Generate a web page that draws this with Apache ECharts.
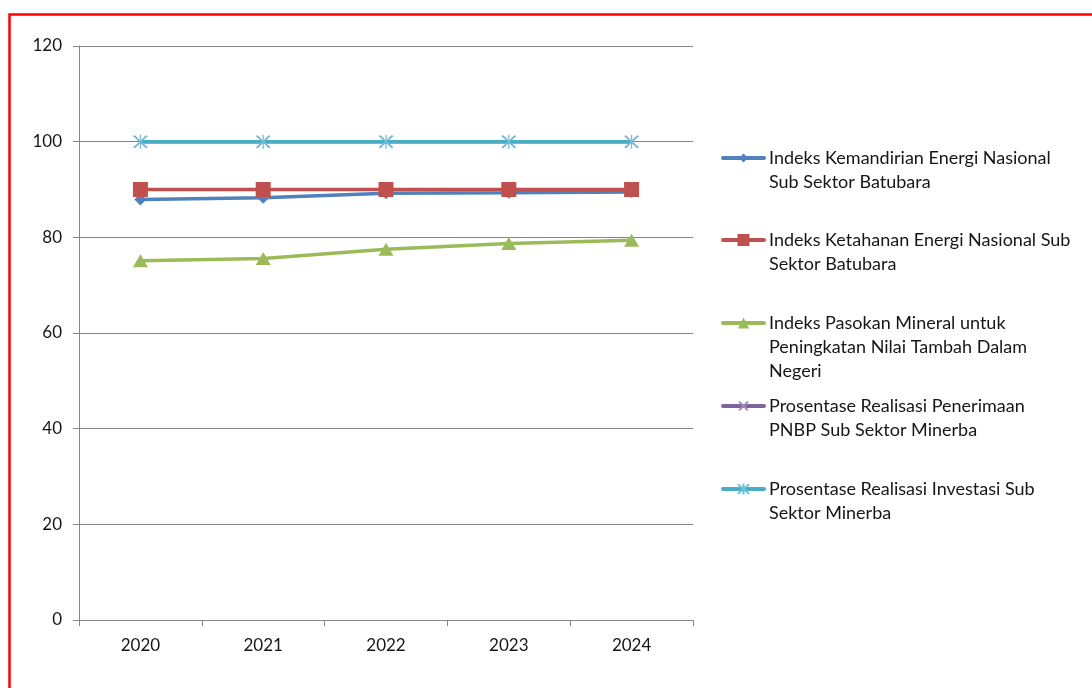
<!DOCTYPE html>
<html>
<head>
<meta charset="utf-8">
<script src="https://cdn.jsdelivr.net/npm/echarts@6/dist/echarts.min.js"></script>
<style>
html,body{margin:0;padding:0;background:#fff;}
#chart{width:1092px;height:688px;}
</style>
</head>
<body>
<div id="chart"></div>
<script>
// ---- data ----
var years = ['2020', '2021', '2022', '2023', '2024'];
var seriesNames = [
  'Indeks Kemandirian Energi Nasional Sub Sektor Batubara',
  'Indeks Ketahanan Energi Nasional Sub Sektor Batubara',
  'Indeks Pasokan Mineral untuk Peningkatan Nilai Tambah Dalam Negeri',
  'Prosentase Realisasi Penerimaan PNBP Sub Sektor Minerba',
  'Prosentase Realisasi Investasi Sub Sektor Minerba'
];
var legendLines = [
  ['Indeks Kemandirian Energi Nasional', 'Sub Sektor Batubara'],
  ['Indeks Ketahanan Energi Nasional Sub', 'Sektor Batubara'],
  ['Indeks Pasokan Mineral untuk', 'Peningkatan Nilai Tambah Dalam', 'Negeri'],
  ['Prosentase Realisasi Penerimaan', 'PNBP Sub Sektor Minerba'],
  ['Prosentase Realisasi Investasi Sub', 'Sektor Minerba']
];
var kemandirian = [87.9, 88.3, 89.2, 89.3, 89.5];
var ketahanan = [90, 90, 90, 90, 90];
var pasokanMineral = [75.1, 75.6, 77.5, 78.7, 79.4];
var realisasiPNBP = [100, 100, 100, 100, 100];
var realisasiInvestasi = [100, 100, 100, 100, 100];
var yTicks = [0, 20, 40, 60, 80, 100, 120];

// ---- style ----
var FONT = 'Lato';
var FS_AXIS = 17;
var FS_LEG = 18;
var LH = 24;
var colors = ['#4F81BD', '#C0504D', '#9BBB59', '#8064A2', '#4BACC6'];
var values = [kemandirian, ketahanan, pasokanMineral, realisasiPNBP, realisasiInvestasi];
var symbols = [
  'diamond',
  'rect',
  'triangle',
  'path://M0 0L10 10M10 0L0 10',
  'path://M0 0L12 12M12 0L0 12M6 -1L6 13'
];
var symbolSizes = [[12, 12], [15, 15], [15, 13], [12, 12], [14, 14]];
var legendIconHeights = [11, 15, 14, 11, 14];
var legendFirstLineY = [158, 240, 323, 406, 489];

var series = seriesNames.map(function (name, i) {
  var isStroke = i >= 3;
  return {
    name: name,
    type: 'line',
    data: values[i],
    symbol: symbols[i],
    symbolSize: symbolSizes[i],
    showAllSymbol: true,
    lineStyle: { color: colors[i], width: 3.5 },
    itemStyle: isStroke
      ? { color: colors[i], borderColor: i === 4 ? '#6EC2D8' : '#A08CC0', borderWidth: 1.3 }
      : { color: colors[i], borderWidth: 0 },
    emphasis: { disabled: true },
    animation: false,
    z: 2 + i
  };
});

// Each legend entry: the icon sits on the first text line (blank lines
// above the text keep the first line on the icon's centre).
var legends = seriesNames.map(function (name, i) {
  var n = legendLines[i].length;
  var lead = new Array(n).join('\n');
  return {
    orient: 'vertical',
    left: 721,
    top: legendFirstLineY[i] - (n - 1) * LH - LH / 2,
    padding: 0,
    itemWidth: 41,
    itemHeight: legendIconHeights[i],
    data: [name],
    formatter: function () { return lead + legendLines[i].join('\n'); },
    textStyle: { fontFamily: FONT, fontSize: FS_LEG, lineHeight: LH, color: '#161616' },
    lineStyle: { width: 4, cap: 'round' },
    selectedMode: false
  };
});

var chart = echarts.init(document.getElementById('chart'), null, { renderer: 'canvas' });
chart.setOption({
  animation: false,
  backgroundColor: '#ffffff',
  grid: { left: 79, right: 399, top: 46, bottom: 68, containLabel: false },
  xAxis: {
    type: 'category',
    data: years,
    boundaryGap: true,
    axisLine: { lineStyle: { color: '#868686', width: 1 } },
    axisTick: { show: true, length: 6, lineStyle: { color: '#868686' } },
    axisLabel: { fontFamily: FONT, fontSize: FS_AXIS, color: '#161616', margin: 17 },
    splitLine: { show: false }
  },
  yAxis: {
    type: 'value',
    min: yTicks[0],
    max: yTicks[yTicks.length - 1],
    interval: yTicks[1] - yTicks[0],
    axisLine: { show: true, lineStyle: { color: '#868686', width: 1 } },
    axisTick: { show: true, length: 6, lineStyle: { color: '#868686' } },
    axisLabel: { fontFamily: FONT, fontSize: FS_AXIS, color: '#161616', margin: 17 },
    splitLine: { show: true, lineStyle: { color: '#868686', width: 1 } }
  },
  legend: legends,
  series: series,
  graphic: [{
    type: 'rect',
    left: 7, top: 12,
    shape: { width: 1200, height: 800 },
    style: { fill: 'none', stroke: '#FF0000', lineWidth: 2.5 },
    silent: true,
    z: 100
  }]
});
</script>
</body>
</html>
